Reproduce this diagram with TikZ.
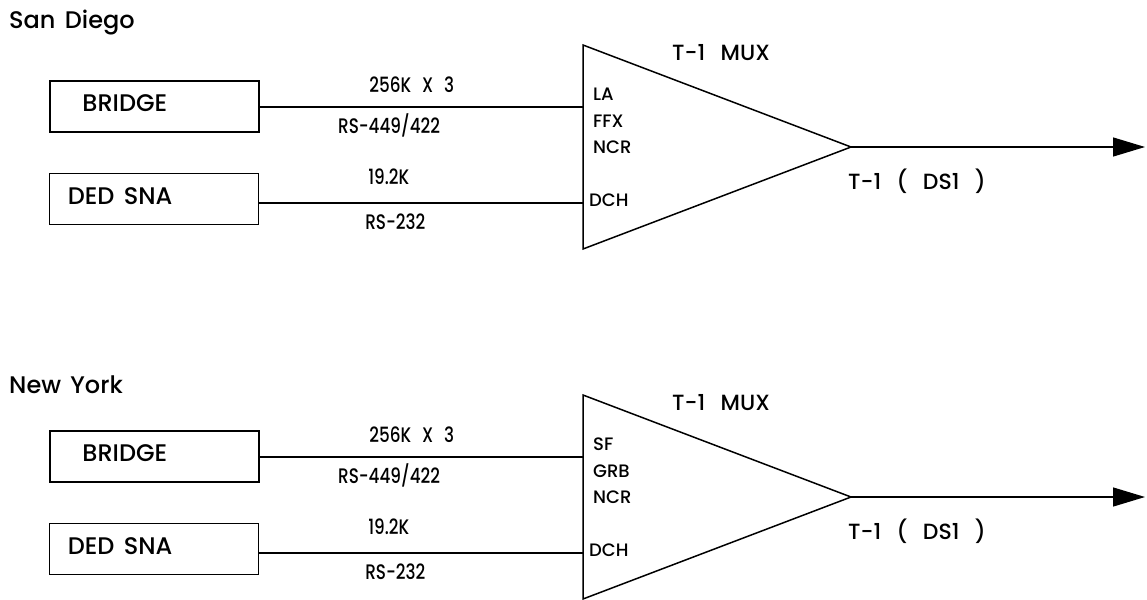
\documentclass[tikz,border=0pt]{standalone}
\usepackage{fontspec}
\setmainfont{Poppins}[UprightFont=* Medium, WordSpace=1.5]
\newfontfamily\widefont{Poppins}[UprightFont=* Medium, WordSpace=2.7]
\newfontfamily\narrowfont{Poppins}[UprightFont=* Medium, FakeStretch=0.8, WordSpace=2.5]
\usetikzlibrary{arrows.meta}

\tikzset{
  site/.style={anchor=base west, inner sep=0pt, font=\fontsize{24}{28}\selectfont},
  unit/.style={draw, line width=1.6pt, minimum width=209pt, minimum height=51pt, inner sep=0pt},
  unittext/.style={anchor=west, inner sep=0pt, font=\fontsize{24}{28}\selectfont},
  rate/.style={inner sep=0pt, text depth=0pt, font=\narrowfont\fontsize{21}{24}\selectfont},
  port/.style={anchor=west, inner sep=0pt, font=\fontsize{18}{22}\selectfont},
  title/.style={inner sep=0pt, font=\widefont\fontsize{22}{26}\selectfont},
  wire/.style={line width=1.3pt},
  mux/.style={line width=1.5pt, line join=miter}
}

\begin{document}
\begin{tikzpicture}[x=1pt, y=-1pt]
\useasboundingbox (0,0) rectangle (1147,599);
\foreach \i/\dy/\cy/\city/\pa/\pb in {1/0/29/San Diego/LA/FFX, 2/350/43/New York/SF/GRB} {
  \begin{scope}[shift={(0,\dy)}]
    \node[site, name=city\i] at (9,\cy) {\city};
    \node[unit, name=bridge\i] at (154.5,106.5) {};
    \node[unit, name=ded\i] at (154,199) {};
    \node[unittext, name=bridgetext\i] at ([xshift=33pt, yshift=3pt]bridge\i.west) {BRIDGE};
    \node[unittext, name=dedtext\i] at ([xshift=19pt, yshift=3pt]ded\i.west) {DED SNA};
    \coordinate (top\i) at (583,45);
    \coordinate (bot\i) at (583,249);
    \coordinate (tip\i) at (851,147);
    \coordinate (in\i-a) at (583,107);
    \coordinate (in\i-b) at (583,203);
    \coordinate (out\i) at (1145,147);
    \draw[mux] (top\i) -- (tip\i) -- (bot\i) -- cycle;
    \node[title, name=muxname\i] at (721,53) {T-1 MUX};
    \node[port, name=porta\i] at (593,94) {\pa};
    \node[port, name=portb\i] at (593,121) {\pb};
    \node[port, name=portc\i] at (593,147) {NCR};
    \node[port, name=portd\i] at (589,200) {DCH};
    \draw[wire] (in\i-a -| bridge\i.east) -- (in\i-a)
      node[rate, pos=.47, yshift=22pt] {256K X 3}
      node[rate, pos=.40, yshift=-17pt] {RS-449/422};
    \draw[wire] (in\i-b -| ded\i.east) -- (in\i-b)
      node[rate, pos=.40, yshift=26pt] {19.2K}
      node[rate, pos=.42, yshift=-19pt] {RS-232};
    \draw[wire, -{Triangle[length=32pt, width=19pt]}] (tip\i) -- (out\i);
    \node[title, name=link\i] at (917,181) {T-1 ( DS1 )};
  \end{scope}
}
\end{tikzpicture}
\end{document}
